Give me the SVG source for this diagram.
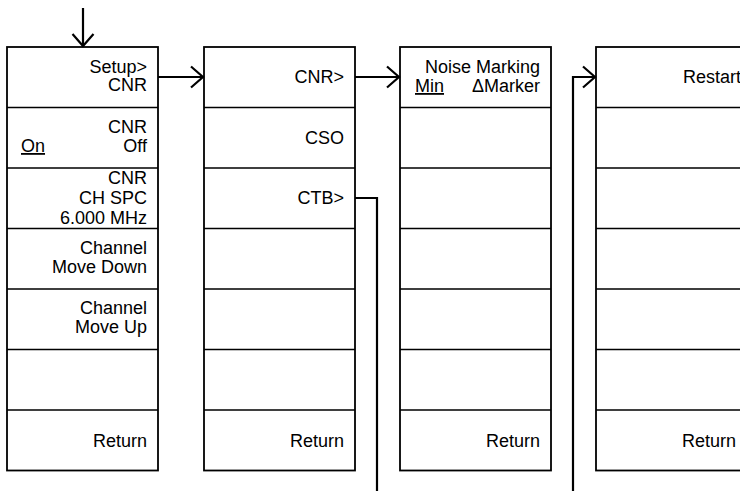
<svg xmlns="http://www.w3.org/2000/svg" width="740" height="491" viewBox="0 0 740 491">
<style>
.box{fill:#fff;stroke:#000;stroke-width:1.8}
.div{stroke:#000;stroke-width:1.6}
.t{font-family:"Liberation Sans",Arial,sans-serif;font-size:18px;fill:#000;text-anchor:end}
.tl{font-family:"Liberation Sans",Arial,sans-serif;font-size:18px;fill:#000;text-anchor:start;text-decoration:underline}
.c{fill:none;stroke:#000;stroke-width:2.2}
</style>
<defs>
<marker id="ah" markerUnits="userSpaceOnUse" markerWidth="30" markerHeight="30" viewBox="-15 -15 30 30" refX="0" refY="0" orient="auto">
<path d="M-12,-10.5 L0,0 L-12,10.5" fill="none" stroke="#000" stroke-width="2.2"/>
</marker>
</defs>
<g id="menu1">
<rect class="box" x="7" y="47" width="151" height="423.5"/>
<path class="div" d="M7,107.5H158M7,168H158M7,228.5H158M7,289H158M7,349.5H158M7,410H158"/>
<text class="t" x="147" y="72.5">Setup&gt;</text>
<text class="t" x="147" y="91">CNR</text>
<text class="t" x="147" y="133">CNR</text>
<text class="tl" x="21" y="152">On</text>
<text class="t" x="147" y="152">Off</text>
<text class="t" x="147" y="184">CNR</text>
<text class="t" x="147" y="204">CH SPC</text>
<text class="t" x="147" y="224">6.000 MHz</text>
<text class="t" x="147" y="253.5">Channel</text>
<text class="t" x="147" y="272.5">Move Down</text>
<text class="t" x="147" y="313.5">Channel</text>
<text class="t" x="147" y="332.5">Move Up</text>
<text class="t" x="147" y="446.5">Return</text>
</g>
<g id="menu2">
<rect class="box" x="204" y="47" width="151" height="423.5"/>
<path class="div" d="M204,107.5H355M204,168H355M204,228.5H355M204,289H355M204,349.5H355M204,410H355"/>
<text class="t" x="344" y="82.5">CNR&gt;</text>
<text class="t" x="344" y="143.5">CSO</text>
<text class="t" x="344" y="204">CTB&gt;</text>
<text class="t" x="344" y="446.5">Return</text>
</g>
<g id="menu3">
<rect class="box" x="400" y="47" width="151" height="423.5"/>
<path class="div" d="M400,107.5H551M400,168H551M400,228.5H551M400,289H551M400,349.5H551M400,410H551"/>
<text class="t" x="540" y="73">Noise Marking</text>
<text class="tl" x="415" y="92">Min</text>
<text class="t" x="540" y="92">ΔMarker</text>
<text class="t" x="540" y="446.5">Return</text>
</g>
<g id="menu4">
<rect class="box" x="596" y="47" width="151" height="423.5"/>
<path class="div" d="M596,107.5H747M596,168H747M596,228.5H747M596,289H747M596,349.5H747M596,410H747"/>
<text class="t" x="741" y="82.5">Restart</text>
<text class="t" x="736" y="446.5">Return</text>
</g>
<g id="connectors">
<path class="c" d="M83,8V46" marker-end="url(#ah)"/>
<path class="c" d="M158,77H203" marker-end="url(#ah)"/>
<path class="c" d="M355,77H399" marker-end="url(#ah)"/>
<path class="c" d="M355,198H377V491"/>
<path class="c" d="M573,491V77H595" marker-end="url(#ah)"/>
</g>
</svg>
